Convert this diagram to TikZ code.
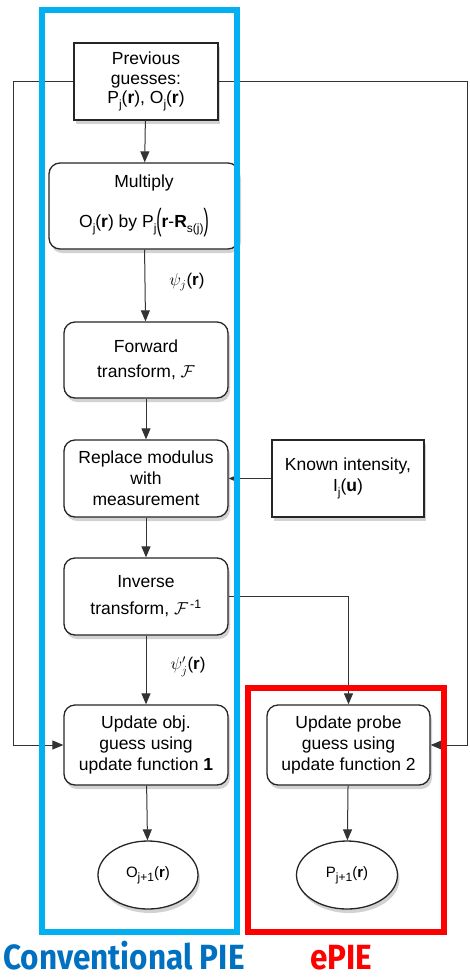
\documentclass[tikz,border=0pt]{standalone}
\usepackage{fontspec}
\usepackage{graphicx}
\setmainfont{Liberation Sans}
\newfontfamily\lblfont{Fira Sans}
\usetikzlibrary{arrows.meta,shadows,shapes.geometric}
\definecolor{pieblue}{RGB}{0,176,240}
\definecolor{pietext}{RGB}{0,112,192}
\definecolor{piered}{RGB}{255,0,0}
\newcommand\sbj[1]{\raisebox{-0.55ex}{\fontsize{12}{12}\selectfont #1}}
\newcommand\bigparen[1]{\raisebox{-0.32ex}{\scalebox{0.9}[1.75]{\fontseries{l}\selectfont #1}}}
\tikzset{
  flowbox/.style={draw=black!85, line width=1.3pt, fill=white,
    drop shadow={shadow xshift=2pt, shadow yshift=-4pt, opacity=0.35},
    align=center, inner sep=0pt, font=\fontsize{17.5}{21}\selectfont},
  rflowbox/.style={flowbox, rounded corners=11pt},
  oval/.style={flowbox, ellipse, font=\fontsize{15}{18}\selectfont},
  conn/.style={draw=black!80, line width=1pt},
  arr/.style={conn, -{Triangle[length=11pt,width=9pt]}},
  frame/.style={line width=6pt},
  lbl/.style={font=\fontsize{17}{20}\selectfont, inner sep=0pt},
  bottomlbl/.style={inner sep=0pt, anchor=base west, font=\lblfont\bfseries\fontsize{35}{38}\selectfont}
}
\begin{document}
\begin{tikzpicture}[x=1pt,y=-1pt]
\useasboundingbox (0,0) rectangle (469,978);
\fill[white] (0,0) rectangle (469,978);

\node[flowbox, minimum width=144pt, minimum height=77pt, font=\fontsize{17.5}{19.5}\selectfont] (prev) at (146,81.5)
  {Previous\\guesses:\\P\sbj{j}(\textbf{r}), O\sbj{j}(\textbf{r})};
\node[rflowbox, minimum width=190pt, minimum height=86pt] (mult) at (144,206)
  {Multiply\\[16pt]O\sbj{j}(\textbf{r}) by P\sbj{j}\bigparen{(}\textbf{r}-\textbf{R}\sbj{s(j)}\bigparen{)}};
\node[rflowbox, minimum width=164pt, minimum height=76pt] (fwd) at (146,360)
  {Forward\\[4pt]transform, $\mathcal{F}$};
\node[rflowbox, minimum width=164pt, minimum height=77pt] (rep) at (146,478.5)
  {Replace modulus\\with\\measurement};
\node[flowbox, minimum width=152pt, minimum height=77pt] (known) at (348,478.5)
  {Known intensity,\\I\sbj{j}(\textbf{u})};
\node[rflowbox, minimum width=164pt, minimum height=77pt] (inv) at (146,596.5)
  {Inverse\\[6pt]transform, $\mathcal{F}$\textsuperscript{\,-1}};
\node[rflowbox, minimum width=164pt, minimum height=80pt] (upo) at (146,745)
  {Update obj.\\guess using\\update function \textbf{1}};
\node[rflowbox, minimum width=163pt, minimum height=80pt] (upp) at (348.5,745)
  {Update probe\\guess using\\update function 2};
\node[oval, minimum width=100pt, minimum height=68pt] (eo) at (148,875)
  {O\sbj{j+1}(\textbf{r})};
\node[oval, minimum width=101pt, minimum height=68pt] (ep) at (347,875)
  {P\sbj{j+1}(\textbf{r})};

\coordinate (lcorner) at (13,81.5);
\coordinate (rcorner) at (467.5,81.5);

\draw[arr] (prev) -- (mult);
\draw[arr] (mult) -- node[lbl, right=24pt, pos=0.45] {$\psi_{j}$(\textbf{r})} (fwd);
\draw[arr] (fwd) -- (rep);
\draw[arr] (known.west) -- (rep.east);
\draw[arr] (rep) -- (inv);
\draw[arr] (inv) -- node[lbl, right=24pt, pos=0.45] {$\psi'_{j}$(\textbf{r})} (upo);
\draw[arr] (inv.east) -| (upp.north);
\draw[arr] (prev.west) -- (lcorner) |- (upo.west);
\draw[arr] (prev.east) -- (rcorner) |- (upp.east);
\draw[arr] (upo) -- (eo);
\draw[arr] (upp) -- (ep);

\draw[frame, pieblue] (42,10) rectangle (236.5,932);
\draw[frame, piered] (247.5,687.5) rectangle (444,932);

\node[bottomlbl, text=pietext] (lconv) at (3,969) {\scalebox{0.9}[1]{Conventional PIE}};
\node[bottomlbl, text=piered] (lepie) at (310,969) {\scalebox{0.9}[1]{ePIE}};
\end{tikzpicture}
\end{document}
